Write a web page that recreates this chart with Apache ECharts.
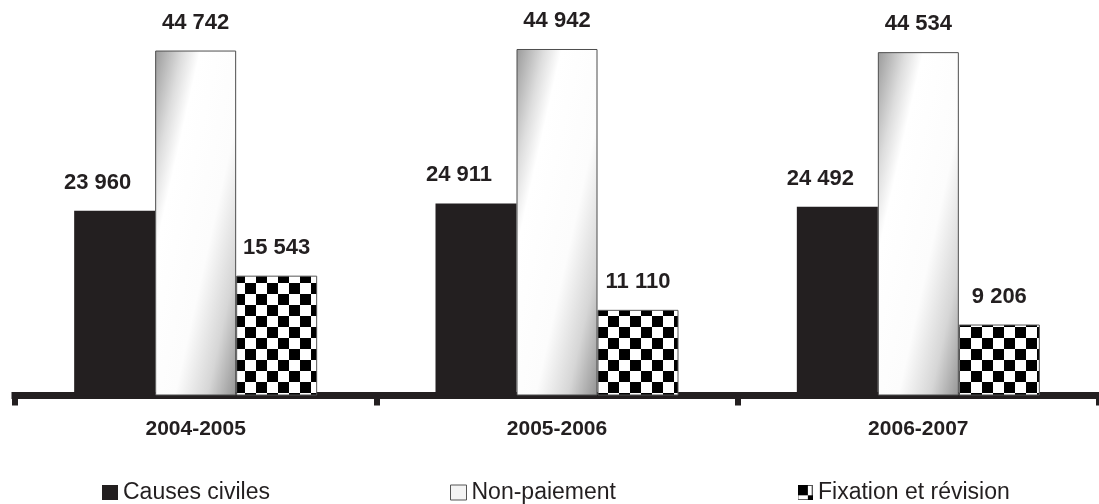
<!DOCTYPE html>
<html>
<head>
<meta charset="utf-8">
<script src="https://cdn.jsdelivr.net/npm/echarts@6/dist/echarts.min.js"></script>
<style>
  html, body { margin: 0; padding: 0; background: #fff; }
  #chart { width: 1099px; height: 504px; }
</style>
</head>
<body>
<div id="chart"></div>
<script>
// Court cases by year and type
const categories = ['2004-2005', '2005-2006', '2006-2007'];
const seriesNames = ['Causes civiles', 'Non-paiement', 'Fixation et révision'];
const causesCiviles = [23960, 24911, 24492];
const nonPaiement = [44742, 44942, 44534];
const fixationRevision = [15543, 11110, 9206];

const INK = '#231f20';
const FONT = '"Liberation Sans", Arial, sans-serif';

// "44742" -> "44 742"
function fmt(n) {
  return String(n).replace(/\B(?=(\d{3})+(?!\d))/g, ' ');
}

// Checkerboard tile, 11px squares
function checkerTile() {
  const c = document.createElement('canvas');
  c.width = 22; c.height = 22;
  const g = c.getContext('2d');
  g.fillStyle = '#ffffff';
  g.fillRect(0, 0, 22, 22);
  g.fillStyle = '#000000';
  for (let x = 0; x < 22; x++) {
    for (let y = 0; y < 22; y++) {
      const cx = (((x - 14) % 22) + 22) % 22 < 11;
      const cy = (((y - 8) % 22) + 22) % 22 < 11;
      if (cx === cy) g.fillRect(x, y, 1, 1);
    }
  }
  return c;
}

// Small legend glyph for the checkered series
function checkerIcon() {
  const c = document.createElement('canvas');
  c.width = 16; c.height = 16;
  const g = c.getContext('2d');
  g.fillStyle = '#ffffff';
  g.fillRect(0, 0, 16, 16);
  g.strokeStyle = '#555555';
  g.lineWidth = 1;
  g.strokeRect(0.5, 0.5, 15, 15);
  g.fillStyle = '#000000';
  g.fillRect(0, 0, 11, 11);
  g.fillRect(11, 11, 5, 5);
  return 'image://' + c.toDataURL('image/png');
}

const metalGradient = new echarts.graphic.LinearGradient(0, 0, 1.9, 0.1, [
  { offset: 0, color: '#9a9a9a' },
  { offset: 0.17, color: '#dddddd' },
  { offset: 0.28, color: '#ffffff' },
  { offset: 0.6, color: '#fcfcfc' },
  { offset: 0.8, color: '#d6d6d6' },
  { offset: 1, color: '#8c8c8c' }
]);

const valueLabel = (offsetX) => ({
  show: true,
  position: 'top',
  distance: 17,
  offset: [offsetX, 0],
  fontFamily: FONT,
  fontSize: 22,
  fontWeight: 'bold',
  color: INK,
  lineHeight: 22,
  formatter: (p) => fmt(p.value)
});

const legendBase = {
  orient: 'horizontal',
  top: 481,
  padding: 0,
  itemWidth: 16,
  itemHeight: 15,
  selectedMode: false,
  textStyle: { fontFamily: FONT, fontSize: 23, color: INK, lineHeight: 23 }
};

const chart = echarts.init(document.getElementById('chart'), null, { renderer: 'canvas' });

chart.setOption({
  animation: false,
  backgroundColor: '#ffffff',
  grid: { left: 15, top: 10, width: 1093, height: 385.5, containLabel: false },
  xAxis: {
    type: 'category',
    data: categories,
    boundaryGap: true,
    axisLine: { show: true, lineStyle: { color: INK, width: 7, cap: 'square' } },
    axisTick: { show: true, length: 10, lineStyle: { color: INK, width: 6 } },
    axisLabel: {
      fontFamily: FONT,
      fontSize: 21,
      fontWeight: 'bold',
      color: INK,
      lineHeight: 21,
      margin: 23
    },
    splitLine: { show: false }
  },
  yAxis: { type: 'value', min: 0, max: 50000, show: false },
  legend: [
    Object.assign({}, legendBase, {
      left: 102,
      data: [{ name: seriesNames[0], icon: 'rect', itemStyle: { color: INK } }]
    }),
    Object.assign({}, legendBase, {
      left: 450,
      data: [{ name: seriesNames[1], icon: 'rect', itemStyle: { color: '#f4f4f4', borderColor: '#555555', borderWidth: 1 } }]
    }),
    Object.assign({}, legendBase, {
      left: 797,
      data: [{ name: seriesNames[2], icon: checkerIcon() }]
    })
  ],
  series: [
    {
      name: seriesNames[0],
      type: 'bar',
      data: causesCiviles,
      barWidth: 81,
      barGap: '0%',
      itemStyle: { color: INK },
      label: valueLabel(-17),
      emphasis: { disabled: true }
    },
    {
      name: seriesNames[1],
      type: 'bar',
      data: nonPaiement,
      barWidth: 81,
      barGap: '0%',
      itemStyle: { color: metalGradient, borderColor: '#4d4d4d', borderWidth: 1 },
      label: valueLabel(0),
      emphasis: { disabled: true }
    },
    {
      name: seriesNames[2],
      type: 'bar',
      data: fixationRevision,
      barWidth: 81,
      barGap: '0%',
      itemStyle: {
        color: { image: checkerTile(), repeat: 'repeat' },
        borderColor: '#555555',
        borderWidth: 1
      },
      label: valueLabel(0),
      emphasis: { disabled: true }
    }
  ]
});
</script>
</body>
</html>
